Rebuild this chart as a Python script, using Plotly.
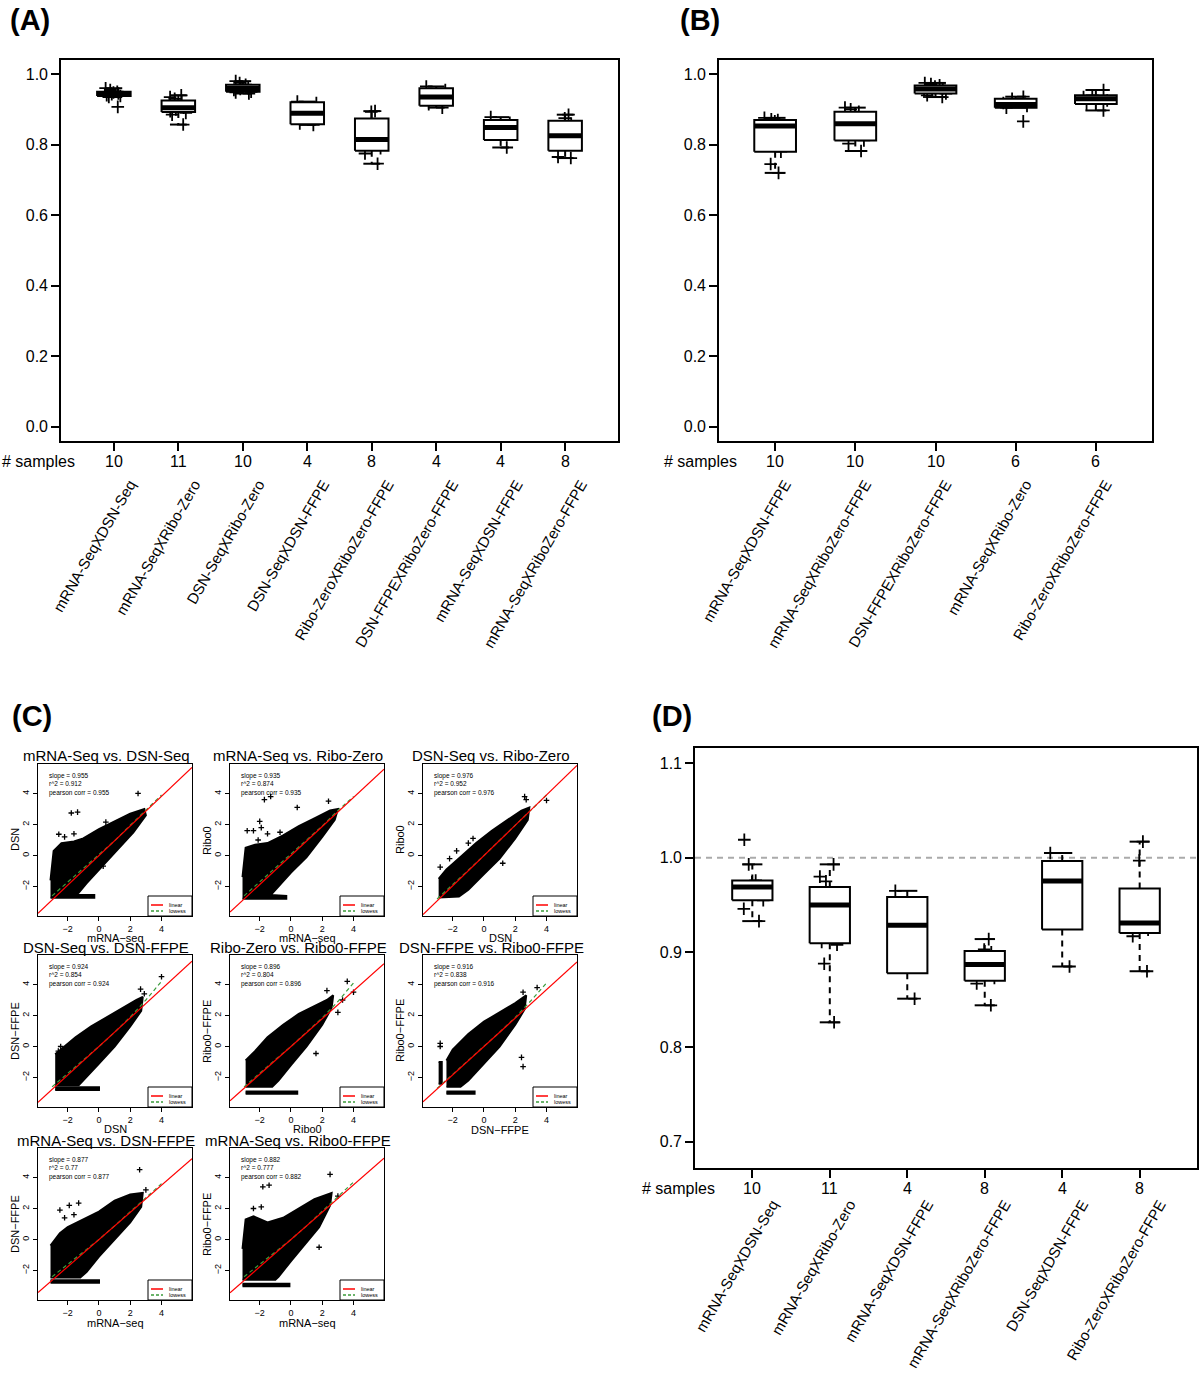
import math
import plotly.graph_objects as go

W, H = 1200, 1373
FONT = "Liberation Sans, Arial, sans-serif"

# ---------------- data: panel A ----------------
A_names = ["mRNA-SeqXDSN-Seq", "mRNA-SeqXRibo-Zero", "DSN-SeqXRibo-Zero", "DSN-SeqXDSN-FFPE",
           "Ribo-ZeroXRiboZero-FFPE", "DSN-FFPEXRiboZero-FFPE", "mRNA-SeqXDSN-FFPE",
           "mRNA-SeqXRiboZero-FFPE"]
A_counts = [10, 11, 10, 4, 8, 4, 4, 8]
A_points = [
    [0.960, 0.955, 0.950, 0.948, 0.945, 0.943, 0.940, 0.938, 0.935, 0.907],
    [0.940, 0.935, 0.930, 0.920, 0.910, 0.905, 0.900, 0.895, 0.890, 0.885, 0.857],
    [0.980, 0.975, 0.970, 0.965, 0.960, 0.958, 0.955, 0.950, 0.948, 0.945],
    [0.922, 0.918, 0.860, 0.856],
    [0.895, 0.893, 0.855, 0.820, 0.810, 0.790, 0.775, 0.746],
    [0.965, 0.955, 0.915, 0.905],
    [0.878, 0.862, 0.835, 0.792],
    [0.885, 0.875, 0.860, 0.830, 0.820, 0.800, 0.765, 0.762],
]

# ---------------- data: panel B ----------------
B_names = ["mRNA-SeqXDSN-FFPE", "mRNA-SeqXRiboZero-FFPE", "DSN-FFPEXRiboZero-FFPE",
           "mRNA-SeqXRibo-Zero", "Ribo-ZeroXRiboZero-FFPE"]
B_counts = [10, 10, 10, 6, 6]
B_points = [
    [0.876, 0.872, 0.870, 0.866, 0.858, 0.848, 0.826, 0.780, 0.745, 0.720],
    [0.905, 0.900, 0.893, 0.885, 0.862, 0.856, 0.850, 0.812, 0.803, 0.782],
    [0.975, 0.972, 0.968, 0.965, 0.960, 0.955, 0.950, 0.945, 0.940, 0.935],
    [0.936, 0.930, 0.918, 0.910, 0.905, 0.866],
    [0.955, 0.940, 0.935, 0.925, 0.915, 0.897],
]

# ---------------- data: panel D ----------------
D_names = ["mRNA-SeqXDSN-Seq", "mRNA-SeqXRibo-Zero", "mRNA-SeqXDSN-FFPE",
           "mRNA-SeqXRiboZero-FFPE", "DSN-SeqXDSN-FFPE", "Ribo-ZeroXRiboZero-FFPE"]
D_counts = [10, 11, 4, 8, 4, 8]
D_points = [
    [1.019, 0.993, 0.976, 0.974, 0.970, 0.968, 0.962, 0.955, 0.946, 0.933],
    [0.993, 0.980, 0.975, 0.963, 0.960, 0.950, 0.937, 0.911, 0.908, 0.888, 0.826],
    [0.965, 0.952, 0.905, 0.851],
    [0.914, 0.903, 0.900, 0.888, 0.886, 0.873, 0.867, 0.844],
    [1.005, 0.988, 0.963, 0.885],
    [1.017, 0.997, 0.938, 0.936, 0.926, 0.924, 0.917, 0.880],
]
D_reference = 1.0

# ---------------- data: panel C ----------------
C_titles = ["mRNA-Seq vs. DSN-Seq", "mRNA-Seq vs. Ribo-Zero", "DSN-Seq vs. Ribo-Zero",
            "DSN-Seq vs. DSN-FFPE", "Ribo-Zero vs. Ribo0-FFPE", "DSN-FFPE vs. Ribo0-FFPE",
            "mRNA-Seq vs. DSN-FFPE", "mRNA-Seq vs. Ribo0-FFPE"]
C_xlabels = ["mRNA\u2212seq", "mRNA\u2212seq", "DSN", "DSN", "Ribo0", "DSN\u2212FFPE",
             "mRNA\u2212seq", "mRNA\u2212seq"]
C_ylabels = ["DSN", "Ribo0", "Ribo0", "DSN\u2212FFPE", "Ribo0\u2212FFPE", "Ribo0\u2212FFPE",
             "DSN\u2212FFPE", "Ribo0\u2212FFPE"]
C_slope = [0.955, 0.935, 0.976, 0.924, 0.896, 0.916, 0.877, 0.882]
C_r2 = [0.912, 0.874, 0.952, 0.854, 0.804, 0.838, 0.77, 0.777]
C_pearson = [0.955, 0.935, 0.976, 0.924, 0.896, 0.916, 0.877, 0.882]
C_ticks = [-2, 0, 2, 4]

# dense point clouds (outline of the black mass), None separates pieces
C_clouds = [
    [(-3.1, -1.6), (-2.9, 0.3), (-2.4, 0.8), (-1.6, 0.9), (-1.0, 1.1), (0.0, 1.7), (1.0, 2.2),
     (2.0, 2.7), (2.9, 3.0), (3.0, 2.6), (2.2, 1.5), (1.0, 0.2), (0.0, -0.9), (-0.8, -1.8),
     (-1.3, -2.4), (-1.5, -2.55), (-0.3, -2.55), (-0.3, -2.72), (-3.1, -2.72)],
    [(-3.1, -1.4), (-2.9, 0.5), (-2.3, 0.7), (-1.5, 0.8), (-0.5, 1.3), (0.5, 1.9), (1.5, 2.4),
     (2.5, 2.9), (3.0, 3.0), (2.8, 2.3), (2.0, 1.2), (1.0, -0.1), (0.0, -1.1), (-0.8, -2.0),
     (-1.3, -2.55), (-0.3, -2.6), (-0.3, -2.78), (-3.1, -2.78)],
    [(-2.9, -1.5), (-2.4, -0.9), (-1.5, -0.1), (-0.5, 0.8), (0.5, 1.6), (1.5, 2.3), (2.4, 2.9),
     (2.9, 3.1), (2.8, 2.3), (2.0, 1.1), (1.0, -0.2), (0.0, -1.2), (-1.0, -2.2), (-1.6, -2.65),
     (-2.9, -2.7)],
    [(-2.8, -0.5), (-2.3, -0.1), (-1.5, 0.6), (-0.5, 1.3), (0.5, 1.9), (1.5, 2.5), (2.4, 3.0),
     (2.8, 3.2), (2.7, 2.3), (2.0, 1.3), (1.0, 0.0), (0.0, -1.1), (-0.8, -2.0), (-1.3, -2.5),
     (-2.8, -2.5), None, (-2.8, -2.62), (0.0, -2.62), (0.0, -2.8), (-2.8, -2.8)],
    [(-2.9, -0.9), (-2.3, -0.3), (-1.5, 0.6), (-0.5, 1.4), (0.5, 2.1), (1.5, 2.6), (2.3, 3.0),
     (2.7, 3.3), (2.6, 2.5), (2.0, 1.4), (1.0, 0.0), (0.0, -1.2), (-0.8, -2.2), (-1.2, -2.6),
     (-2.9, -2.6), None, (-2.9, -2.9), (0.4, -2.9), (0.4, -3.05), (-2.9, -3.05)],
    [(-2.4, -0.9), (-2.0, -0.2), (-1.0, 0.8), (0.0, 1.6), (1.0, 2.2), (2.0, 2.8), (2.7, 3.3),
     (2.6, 2.4), (2.0, 1.4), (1.0, 0.0), (0.0, -1.1), (-1.0, -2.2), (-1.5, -2.6), (-2.4, -2.6),
     None, (-2.9, -2.4), (-2.7, -2.4), (-2.7, -1.0), (-2.9, -1.0),
     None, (-2.4, -2.9), (-0.6, -2.9), (-0.6, -3.05), (-2.4, -3.05)],
    [(-3.1, -0.4), (-2.5, 0.4), (-2.0, 0.8), (-1.0, 1.3), (0.0, 1.8), (1.0, 2.5), (2.0, 2.9),
     (2.8, 3.0), (2.7, 2.1), (2.0, 1.1), (1.0, 0.0), (0.0, -1.1), (-0.8, -2.1), (-1.2, -2.45),
     (-3.1, -2.45), None, (-3.1, -2.62), (0.0, -2.62), (0.0, -2.78), (-3.1, -2.78)],
    [(-3.1, -0.6), (-2.9, 1.3), (-2.4, 1.5), (-1.5, 1.1), (-0.5, 1.4), (0.5, 2.0), (1.5, 2.6),
     (2.6, 3.0), (2.5, 2.2), (1.8, 0.8), (0.8, -0.4), (0.0, -1.4), (-0.8, -2.4), (-1.0, -2.6),
     (-3.1, -2.6), None, (-3.1, -2.85), (-0.1, -2.85), (-0.1, -3.02), (-3.1, -3.02)],
]
C_outliers = [
    [(2.5, 4.0), (-1.77, 2.74), (-1.37, 2.8), (0.44, 2.15), (-2.57, 1.37), (0.27, -0.69),
     (-2.2, 1.2), (-1.6, 1.4)],
    [(-1.7, 3.6), (-1.3, 3.8), (0.4, 3.1), (2.4, 3.5), (-2.0, 2.2), (-2.8, 1.6), (-2.4, 1.6),
     (-1.5, 1.4), (-0.7, 1.5), (-2.1, 1.0), (-0.25, 1.1), (-1.9, 1.8)],
    [(4.0, 3.55), (2.6, 3.8), (2.7, 3.6), (-1.75, 0.3), (-2.8, -0.75), (-0.7, 1.1), (-2.2, -0.2),
     (1.2, -0.5), (-1.0, 0.8)],
    [(4.0, 4.5), (2.66, 3.7), (-2.45, 0.0), (-2.6, -0.3), (2.9, 3.4)],
    [(3.6, 4.2), (4.0, 3.5), (2.3, 3.6), (1.6, -0.45), (3.0, 2.2), (3.3, 3.0)],
    [(-2.8, 0.2), (-2.8, 0.0), (2.5, 3.5), (2.4, -0.7), (2.5, -1.3), (3.4, 3.8)],
    [(2.6, 4.5), (-2.5, 1.9), (-1.9, 2.2), (-1.3, 2.35), (-2.2, 1.4), (-1.6, 1.6), (3.0, 3.2)],
    [(-1.8, 3.4), (-1.4, 3.5), (2.5, 4.2), (-2.4, 2.0), (-1.9, 2.1), (3.0, 2.8), (1.8, -0.5)],
]
C_lowess_x = [-3.0, -2.0, -1.0, 0.0, 1.0, 2.0, 3.0, 4.0]
C_lowess_y = [
    [-2.6, -1.7, -0.85, 0.05, 0.95, 1.95, 2.95, 3.9],
    [-2.6, -1.7, -0.85, 0.05, 0.95, 1.9, 2.9, 3.8],
    [-2.8, -1.9, -0.95, 0.0, 0.98, 1.95, 2.95, 3.9],
    [-2.6, -1.75, -0.9, 0.0, 0.92, 1.9, 3.0, 4.2],
    [-2.6, -1.7, -0.85, 0.0, 0.9, 1.85, 2.9, 4.1],
    [-2.7, -1.8, -0.9, 0.0, 0.92, 1.88, 2.95, 4.1],
    [-2.4, -1.6, -0.8, 0.0, 0.88, 1.8, 2.7, 3.6],
    [-2.4, -1.6, -0.8, 0.0, 0.88, 1.8, 2.75, 3.7],
]


# ---------------- helpers ----------------
def px(x):
    return x / W


def py(y):
    return 1 - y / H


def fivenum(v):
    s = sorted(v)
    n = len(s)
    n4 = math.floor((n + 3) / 2) / 2
    d = [1, n4, (n + 1) / 2, n + 1 - n4, n]
    return [0.5 * (s[math.floor(i) - 1] + s[math.ceil(i) - 1]) for i in d]


fig = go.Figure()
annotations = []
shapes = []
layout = dict(template="none", width=W, height=H, autosize=False,
              margin=dict(l=0, r=0, t=0, b=0, pad=0, autoexpand=False),
              paper_bgcolor="white", plot_bgcolor="white", showlegend=False, boxmode="overlay",
              font=dict(family=FONT, color="black"))


def axname(k, kind):
    return kind if k == 1 else f"{kind}{k}"


def add_box_panel(k, names, counts, pts_list, left, right, top, bottom, yrange, yticks,
                  hw, samples_x, standoff, shift, ref=None):
    xa, ya = axname(k, "x"), axname(k, "y")
    n = len(names)
    pos = list(range(1, n + 1))
    ext = 0.04 * n
    layout["xaxis" if k == 1 else f"xaxis{k}"] = dict(
        domain=[px(left), px(right)], range=[0.5 - ext, n + 0.5 + ext], anchor=ya,
        automargin=False, tickmode="array", tickvals=pos, ticktext=names, tickangle=-60,
        ticks="outside", ticklen=8, tickwidth=1.5, tickcolor="black", tickfont=dict(size=15),
        ticklabelstandoff=standoff, ticklabelshift=shift, showline=True, mirror=True,
        linecolor="black", linewidth=1.6, showgrid=False, zeroline=False)
    layout["yaxis" if k == 1 else f"yaxis{k}"] = dict(
        domain=[py(bottom), py(top)], range=yrange, anchor=xa, automargin=False,
        tickmode="array", tickvals=yticks, ticktext=[f"{t:.1f}" for t in yticks],
        ticks="outside", ticklen=8, tickwidth=1.5, tickcolor="black", tickfont=dict(size=16),
        showline=True, mirror=True, linecolor="black", linewidth=1.6, showgrid=False,
        zeroline=False)
    if ref is not None:
        shapes.append(dict(type="line", xref=f"{xa} domain", yref=ya, x0=0, x1=1, y0=ref, y1=ref,
                           line=dict(color="#aaaaaa", width=2, dash="6px,5px"), layer="below"))
    for i, pts in zip(pos, pts_list):
        lo_h, q1, med, q3, hi_h = fivenum(pts)
        iqr = q3 - q1
        inside = [p for p in pts if q1 - 1.5 * iqr <= p <= q3 + 1.5 * iqr]
        wlo, whi = min(inside), max(inside)
        for a, b in ((q3, whi), (q1, wlo)):
            fig.add_trace(go.Scatter(x=[i, i], y=[a, b], mode="lines", xaxis=xa, yaxis=ya,
                                     line=dict(color="black", width=2, dash="6px,5px"),
                                     hoverinfo="skip"))
            fig.add_trace(go.Scatter(x=[i - hw / 2, i + hw / 2], y=[b, b], mode="lines",
                                     xaxis=xa, yaxis=ya, line=dict(color="black", width=2),
                                     hoverinfo="skip"))
        fig.add_trace(go.Scatter(x=[i - hw, i + hw, i + hw, i - hw, i - hw],
                                 y=[q1, q1, q3, q3, q1], mode="lines", fill="toself",
                                 fillcolor="white", xaxis=xa, yaxis=ya,
                                 line=dict(color="black", width=2), hoverinfo="skip"))
        fig.add_trace(go.Scatter(x=[i - hw, i + hw], y=[med, med], mode="lines", xaxis=xa,
                                 yaxis=ya, line=dict(color="black", width=5), hoverinfo="skip"))
        fig.add_trace(go.Box(x=[i] * len(pts), y=pts, xaxis=xa, yaxis=ya, boxpoints="all",
                             jitter=0.7, pointpos=0, width=2 * hw, fillcolor="rgba(0,0,0,0)",
                             line=dict(width=0, color="rgba(0,0,0,0)"), whiskerwidth=0,
                             marker=dict(symbol="cross-thin", size=9, color="black",
                                         line=dict(color="black", width=1.8)),
                             hoverinfo="skip"))
    for i, c in zip(pos, counts):
        annotations.append(dict(x=i, xref=xa, y=py(bottom + 20), yref="paper", text=str(c),
                                showarrow=False, font=dict(size=16), xanchor="center",
                                yanchor="middle"))
    annotations.append(dict(x=px(samples_x), xref="paper", y=py(bottom + 20), yref="paper",
                            text="# samples", showarrow=False, font=dict(size=16),
                            xanchor="left", yanchor="middle"))


add_box_panel(1, A_names, A_counts, A_points, 61, 618, 60, 441, [-0.04, 1.04],
              [0.0, 0.2, 0.4, 0.6, 0.8, 1.0], 0.26, 0, 19, 16)
add_box_panel(2, B_names, B_counts, B_points, 719, 1152, 60, 441, [-0.04, 1.04],
              [0.0, 0.2, 0.4, 0.6, 0.8, 1.0], 0.26, 662, 19, 10)
add_box_panel(3, D_names, D_counts, D_points, 695, 1197, 748, 1168, [0.672, 1.116],
              [0.7, 0.8, 0.9, 1.0, 1.1], 0.26, 640, 12, 20, ref=D_reference)

# ---------------- panel C scatter grid ----------------
row_tops = [764, 955, 1148]
col_lefts = [38, 230, 423]
FW, FH = 154, 152
grid_rc = [(0, 0), (0, 1), (0, 2), (1, 0), (1, 1), (1, 2), (2, 0), (2, 1)]
XR = [-3.9, 5.95]
YR = [-3.9, 5.9]
tick_txt = [str(t).replace("-", "\u2212") for t in C_ticks]
occupied = set(grid_rc)

for j in range(8):
    k = 4 + j
    xa, ya = f"x{k}", f"y{k}"
    r, c = grid_rc[j]
    L, T = col_lefts[c], row_tops[r]
    R, B = L + FW, T + FH
    layout[f"xaxis{k}"] = dict(domain=[px(L), px(R)], range=XR, anchor=ya, automargin=False,
                               tickmode="array", tickvals=C_ticks, ticktext=tick_txt,
                               ticks="outside", ticklen=4, tickwidth=1, tickcolor="black",
                               tickfont=dict(size=9), showline=True, mirror=True,
                               linecolor="black", linewidth=1.2, showgrid=False, zeroline=False)
    layout[f"yaxis{k}"] = dict(domain=[py(B), py(T)], range=YR, anchor=xa, automargin=False,
                               tickmode="array", tickvals=C_ticks, ticktext=tick_txt,
                               tickangle=-90, ticks="outside", ticklen=4, tickwidth=1,
                               tickcolor="black", tickfont=dict(size=9), showline=True,
                               mirror=True, linecolor="black", linewidth=1.2, showgrid=False,
                               zeroline=False)
    cx = [p[0] if p is not None else None for p in C_clouds[j]]
    cy = [p[1] if p is not None else None for p in C_clouds[j]]
    fig.add_trace(go.Scatter(x=cx, y=cy, mode="lines", fill="toself", fillcolor="black",
                             line=dict(color="black", width=2), xaxis=xa, yaxis=ya,
                             hoverinfo="skip", connectgaps=False))
    fig.add_trace(go.Scatter(x=[p[0] for p in C_outliers[j]], y=[p[1] for p in C_outliers[j]],
                             mode="markers", xaxis=xa, yaxis=ya, hoverinfo="skip",
                             marker=dict(symbol="cross-thin", size=4, color="black",
                                         line=dict(color="black", width=1.3))))
    fig.add_trace(go.Scatter(x=C_lowess_x, y=C_lowess_y[j], mode="lines", xaxis=xa, yaxis=ya,
                             line=dict(color="#3a9a3a", width=1.2, dash="4px,3px"),
                             hoverinfo="skip"))
    fig.add_trace(go.Scatter(x=XR, y=[C_slope[j] * v for v in XR], mode="lines", xaxis=xa,
                             yaxis=ya, line=dict(color="#ff0000", width=1.2), hoverinfo="skip"))
    annotations.append(dict(x=px(L + 9), y=py(T + 6), xref="paper", yref="paper",
                            xanchor="left", yanchor="top", showarrow=False, align="left",
                            text=f"slope = {C_slope[j]}<br>r^2 = {C_r2[j]}<br>pearson corr = {C_pearson[j]}",
                            font=dict(size=6.5)))
    shapes.append(dict(type="rect", xref="paper", yref="paper", x0=px(R - 44), x1=px(R),
                       y0=py(B), y1=py(B - 20), line=dict(color="black", width=1),
                       fillcolor="white", layer="above"))
    shapes.append(dict(type="line", xref="paper", yref="paper", x0=px(R - 41), x1=px(R - 29),
                       y0=py(B - 11), y1=py(B - 11), line=dict(color="#ff0000", width=1.5),
                       layer="above"))
    shapes.append(dict(type="line", xref="paper", yref="paper", x0=px(R - 41), x1=px(R - 29),
                       y0=py(B - 5), y1=py(B - 5),
                       line=dict(color="#3a9a3a", width=1.5, dash="3px,2px"), layer="above"))
    for txt, yy in (("linear", B - 11), ("lowess", B - 5)):
        annotations.append(dict(x=px(R - 25), y=py(yy), xref="paper", yref="paper",
                                xanchor="left", yanchor="middle", showarrow=False, text=txt,
                                font=dict(size=5.5)))
    annotations.append(dict(x=px(L - 23), y=py((T + B) / 2), xref="paper", yref="paper",
                            textangle=-90, showarrow=False, text=C_ylabels[j],
                            font=dict(size=11), xanchor="center", yanchor="middle"))
    covered = (r + 1, c) in occupied
    annotations.append(dict(x=px((L + R) / 2), y=py(B + (22 if covered else 23)),
                            xref="paper", yref="paper", showarrow=False, text=C_xlabels[j],
                            font=dict(size=11), xanchor="center", yanchor="middle"))
    if r > 0:
        shapes.append(dict(type="rect", xref="paper", yref="paper", x0=px(L - 38),
                           x1=px(L + 160), y0=py(T - 2), y1=py(T - 17),
                           line=dict(width=0), fillcolor="white", layer="above"))
    annotations.append(dict(x=px((L + R) / 2 - 9), y=py(T - 8), xref="paper", yref="paper",
                            showarrow=False, text=C_titles[j], font=dict(size=15),
                            xanchor="center", yanchor="middle"))

for lab, x, y in (("(A)", 8, 20), ("(B)", 678, 20), ("(C)", 10, 716), ("(D)", 650, 716)):
    annotations.append(dict(x=px(x), y=py(y), xref="paper", yref="paper", text=f"<b>{lab}</b>",
                            showarrow=False, xanchor="left", yanchor="middle",
                            font=dict(size=29)))

layout["annotations"] = annotations
layout["shapes"] = shapes
fig.update_layout(**layout)
fig.write_html("out.html", config={"displayModeBar": False},
               post_script="document.body.style.margin='0';document.body.style.overflow='hidden';")
